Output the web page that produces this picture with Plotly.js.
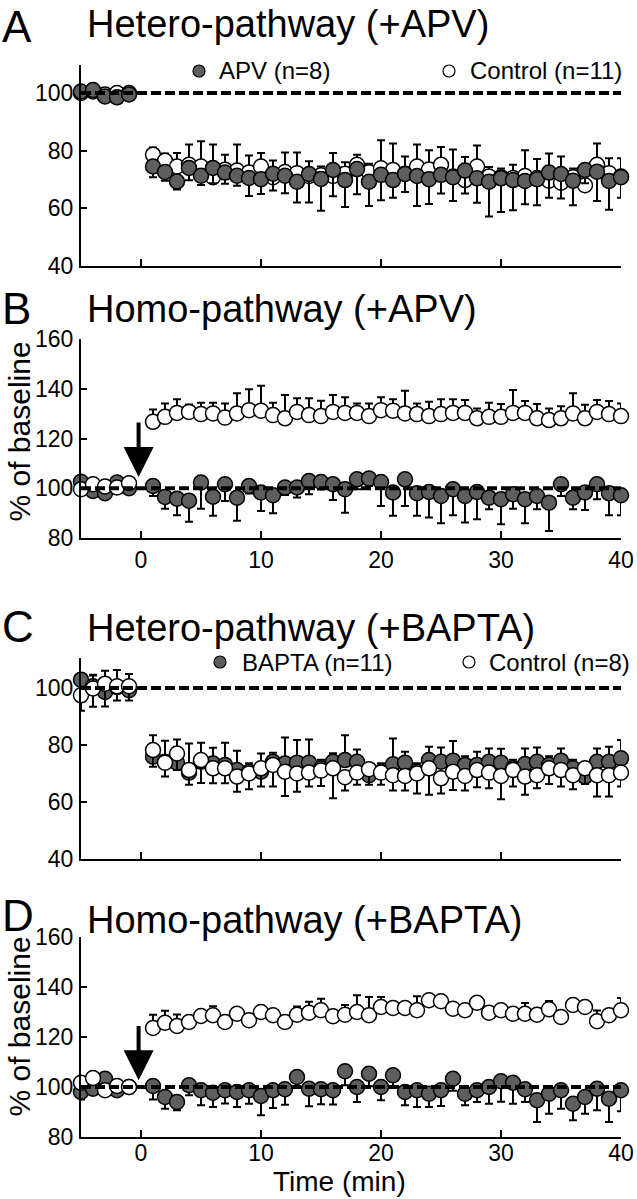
<!DOCTYPE html>
<html><head><meta charset="utf-8">
<script src="https://cdn.plot.ly/plotly-3.0.1.min.js"></script>
<style>html,body{margin:0;padding:0;background:#fff}#chart{width:637px;height:1199px}</style>
</head><body><div id="chart"></div>
<script>
// ---------- DATA ----------
const time = [-5,-4,-3,-2,-1,1,2,3,4,5,6,7,8,9,10,11,12,13,14,15,16,17,18,19,20,21,22,23,24,25,26,27,28,29,30,31,32,33,34,35,36,37,38,39,40];
const xTicks = [0,10,20,30,40];

// Panel A: Hetero-pathway (+APV)
const apvA = [100.5,101,98.8,98.5,99.5, 74.5,72.6,69.3,74.0,71.3,74.0,72.4,71.3,70.5,70.1,72.0,71.3,69.2,71.9,70.2,73.3,69.8,73.6,69.2,71.6,69.8,71.9,71.2,70.1,71.6,70.8,73.1,70.4,69.2,70.4,69.8,69.5,70.1,72.4,71.9,69.6,73.3,72.7,69.5,70.8];
const apvAErr = [1,1,1,1,1, 3.7,3.0,2.8,4.3,3.2,5.3,3.9,3.5,6.2,5.1,5.8,6.1,7.2,9.9,11,9.1,9.3,8.7,8.4,8.8,6.1,6.2,10.4,8.6,6.5,8.3,8,8.5,12,11.7,10.5,8.1,9,8.7,8.5,8.5,4.6,10.2,10,7.1];
const ctrlA = [100,100.5,99.5,100,100, 78.6,76.5,74.5,75.1,74.5,70.8,73.4,73.1,72.4,74.5,70.8,72.6,72.2,71.2,71.5,71.2,72.0,75.1,72.5,73.9,73.3,72.0,74.5,73.5,75.1,71.0,69.8,74.5,71.0,70.8,70.5,71.2,70.5,69.6,68.9,70.8,68.0,75.1,72.2,71.0];
const ctrlAErr = [1,1,1,1,1, 2.5,2.5,4.7,7.0,8.8,11.3,5.2,9,5.9,4.7,5.8,6.8,7.2,5.1,3,8,4,3.5,3,9.7,9.2,6,7.6,6.6,6.2,9.4,8,7.3,3.3,3,4.6,8.9,6.6,9.4,9.1,3,4,7.4,5.2,6.4];

// Panel B: Homo-pathway (+APV)
const apvB = [102.6,98.9,98,102.3,100, 100.9,96.5,95.8,95,102.3,96.6,101.6,96.2,100.9,98.3,97.2,100.3,100.3,102.9,102.5,101.6,99.6,103.6,103.9,102.5,98.3,103.6,98,98.5,96.9,99.6,96.9,98.5,96.2,95.6,97.6,95.6,96.9,94.2,101.6,96.2,98.3,101.6,98,97.2];
const apvBErr = [1.5,1.5,1.5,1.5,2, 4,4.7,6.7,8.5,10.5,7.7,6.7,9.3,3,7.4,7.3,3,4,5.3,3,6.3,9.4,4,3,9.6,9.4,10.7,9.1,10.3,11,10.5,10.7,11,4.6,10.1,5.8,9.7,5.3,11.4,4.7,4.6,7,6,8.9,8.1];
const ctrlB = [99.6,101.6,100.7,100.3,102, 126.7,128.7,130.3,130.7,129.8,130.1,128.4,130.1,131.4,131.2,129.4,128.1,130.7,129.4,129,130.7,130.3,130.3,129,131.4,131.2,130.1,129.8,129,129.8,130.3,130.3,128.1,128.7,128.7,130.3,130.3,128.1,127.4,128.1,130.1,128.1,130.7,129.8,129];
const ctrlBErr = [1,1,1,1,1.5, 5,5.4,5.5,3,4.6,4.3,5.7,8.1,8.4,10,5,9.4,5.5,6.8,6.2,6.8,6.3,3.8,5.1,5.2,4.6,9.1,4.3,5.8,6,5.5,5.2,4,5.7,5.2,9.2,4.8,5.8,4.7,4.9,8.1,5.5,4.8,5.3,5.1];

// Panel C: Hetero-pathway (+BAPTA)
const bapC = [102.9,100.6,98.6,100.3,99.2, 75.9,74.1,73.8,70.3,74.1,73.5,73.0,71.2,70.6,70.6,74.1,73.5,73.8,73.8,71.8,74.1,74.7,74.1,69.4,70.6,73.2,73.8,70.6,74.7,74.1,74.5,73.0,73.0,74.1,73.8,71.8,73.3,74.1,73.0,74.5,71.8,68.9,74.1,74.1,75.3];
const bapCErr = [1.5,3.8,1.5,1.5,1.5, 7.5,7.4,8.1,10.2,6.7,5.5,7.8,6.8,3,6.4,3.2,9.1,7.9,8.1,3,3,8.7,4.3,3,3,9.1,3.8,3,4.7,5,6.9,3,4.6,4.7,4.9,3,5.5,5,3,4.3,3,3,4.7,5.3,6.4];
const ctrlC = [97.4,99.8,101.5,100.6,100.6, 78.2,73.8,77.0,71.2,74.7,71.8,71.8,68.9,70.0,71.8,73.0,70.6,70.0,70.3,71.0,71.8,68.7,70.3,71.5,70.3,69.4,69.1,70.0,71.8,68.3,70.6,69.1,71.2,70.3,69.1,71.2,68.9,69.4,71.8,71.2,69.4,71.8,69.4,69.4,70.3];
const ctrlCErrUp = [3,4.8,4.5,5.7,4.3, 0,0,0,0,0,0,0,0,0,0,0,0,0,0,0,0,0,0,0,0,0,0,0,0,0,0,0,0,0,0,0,0,0,0,0,0,0,0,0,0];
const ctrlCErr = [5.4,6.4,8,5,5, 5.8,4.9,5.8,5.2,8,5.2,5.2,5.3,5.5,6.4,7.6,8.5,6.4,4.9,5.4,10.5,4.7,4.3,5.5,4.3,5.4,5.1,7,9.3,5.3,6.4,5.1,6,5.5,8.1,5.8,6.4,4.6,5.5,5.8,4.9,5.5,7.5,7.5,4.9];

// Panel D: Homo-pathway (+BAPTA)
const bapD = [98,99.3,103.3,98.7,100, 100.4,96,94,100.7,98.7,97.7,98.7,98,98.7,96.4,98.7,99.1,104,99.3,99.1,98.7,106.3,100,105.3,100,104.7,98,98.7,97.3,98.7,103.3,97.3,98.7,100,102.3,101.7,99.1,94.7,97.3,98.7,93.3,96,99.3,95.3,98.7];
const bapDErr = [3,1.5,1.5,1.5,1.5, 5.4,4.7,3.3,4,6,5.7,5.3,6,5.4,7.7,7.1,6.2,4,7,6,5.7,5.6,6,5,5.3,5.1,5.3,6.7,5.3,6.3,4.8,4.6,4.7,6.7,8.2,8.4,5.1,8.7,8,7.4,6.6,6.7,8.6,9.3,8.4];
const ctrlD = [101.7,103.6,98.7,100.4,100, 123.6,125.7,124.4,126,128.4,128.7,126,129.3,126.7,130,128.7,126,128.9,129.7,130.7,128.3,128.9,130,128.7,132,131.6,131.6,130.7,134.7,134.3,131.3,130.7,133.7,129.7,130.7,129.3,129.3,128.9,131.1,128,132.8,132,126.3,128.7,130.7];
const ctrlDErr = [1.5,1.5,1.5,1.5,1.5, 5.3,4.8,4.6,1.5,2,3.6,1.5,1.5,1.5,2,1.5,1.5,3.3,4.4,4.6,1.5,3.9,6.7,7.3,4,2,2,5.6,2,1.5,1.5,1.5,2,1.5,1.5,1.5,4.3,1.5,3.3,1.5,1.5,1.5,4.3,1.5,4.9];

const baseline = 100;
const stimArrow = {x: -0.2, tipB: 104.5, tailB: 127, tipD: 102.7, tailD: 125};

const titles = ['Hetero-pathway (+APV)', 'Homo-pathway (+APV)', 'Hetero-pathway (+BAPTA)', 'Homo-pathway (+BAPTA)'];
const letters = ['A','B','C','D'];
const legendA = ['APV (n=8)', 'Control (n=11)'];
const legendC = ['BAPTA (n=11)', 'Control (n=8)'];
const yTitle = '% of baseline';
const xTitle = 'Time (min)';

// ---------- STYLE / LAYOUT ----------
const W = 637, H = 1199;
const px = v => v / W;
const py = v => 1 - v / H;
const FONT = 'Liberation Sans, Arial, Helvetica, sans-serif';
const GRAY = '#5e5e5e';
const none = time.map(() => 0);

function tr(xa, ya, y, plus, minus, filled) {
  return {
    type: 'scatter', mode: 'markers', x: time, y: y, xaxis: xa, yaxis: ya,
    cliponaxis: false,
    marker: {size: 15, color: filled ? GRAY : '#ffffff', line: {color: '#000', width: 1.5}},
    error_y: {type: 'data', symmetric: false, array: plus, arrayminus: minus,
              color: '#000', thickness: 2, width: 4},
    showlegend: false, hoverinfo: 'skip'
  };
}

const data = [
  tr('x', 'y', ctrlA, ctrlAErr, none, false),
  tr('x', 'y', apvA, none, apvAErr, true),
  tr('x2', 'y2', apvB, none, apvBErr, true),
  tr('x2', 'y2', ctrlB, ctrlBErr, none, false),
  tr('x3', 'y3', bapC, bapCErr, none, true),
  tr('x3', 'y3', ctrlC, ctrlCErrUp, ctrlCErr, false),
  tr('x4', 'y4', bapD, none, bapDErr, true),
  tr('x4', 'y4', ctrlD, ctrlDErr, none, false)
];

const tickFont = {family: FONT, size: 23, color: '#000'};
function xax(anchor, labels, standoff) {
  return {domain: [px(81), px(621)], range: [-5, 40], anchor: anchor,
    tickvals: xTicks, showticklabels: labels, ticks: 'inside', ticklen: 7, tickwidth: 2, tickcolor: '#000',
    ticklabelstandoff: standoff,
    showline: true, linecolor: '#000', linewidth: 2, showgrid: false, zeroline: false,
    tickfont: tickFont, fixedrange: true};
}
function yax(anchor, dom, range, vals) {
  return {domain: dom, range: range, anchor: anchor, tickvals: vals,
    ticks: 'inside', ticklen: 6, tickwidth: 2, tickcolor: '#000', ticklabelstandoff: 1,
    showline: true, linecolor: '#000', linewidth: 2, showgrid: false, zeroline: false,
    tickfont: tickFont, fixedrange: true};
}

const yDomA = [py(266), py(65)], yDomB = [py(538), py(339)], yDomC = [py(859), py(658)], yDomD = [py(1137), py(937)];

const dashLine = (xr, yr, x1) => ({type: 'line', xref: xr, yref: yr, x0: -5, x1: x1, y0: baseline, y1: baseline,
  line: {color: '#000', width: 4, dash: '10px,4px'}, layer: 'above'});
const circ = (cx, cy, filled) => ({type: 'circle', xref: 'paper', yref: 'paper',
  x0: px(cx - 6), x1: px(cx + 6), y0: py(cy + 6), y1: py(cy - 6),
  fillcolor: filled ? GRAY : '#fff', line: {color: '#000', width: 1.2}});

const ann = [];
const letterY = [0, 308, 626, 915], titleY = [24, 309, 628, 920];
for (let i = 0; i < 4; i++) {
  ann.push({xref: 'paper', yref: 'paper', x: px(0), y: py(letterY[i]), xanchor: 'left', yanchor: i === 0 ? 'top' : 'middle',
    text: letters[i], showarrow: false, font: {family: FONT, size: 44, color: '#000'}});
  ann.push({xref: 'paper', yref: 'paper', x: px(85), y: py(titleY[i]), xanchor: 'left', yanchor: 'middle',
    text: titles[i], showarrow: false, font: {family: FONT, size: 38, color: '#000'}});
}
const legFont = {family: FONT, size: 24, color: '#000'};
ann.push({xref: 'paper', yref: 'paper', x: px(217), y: py(71), xanchor: 'left', yanchor: 'middle', text: legendA[0], showarrow: false, font: legFont});
ann.push({xref: 'paper', yref: 'paper', x: px(468), y: py(71), xanchor: 'left', yanchor: 'middle', text: legendA[1], showarrow: false, font: legFont});
ann.push({xref: 'paper', yref: 'paper', x: px(240), y: py(662), xanchor: 'left', yanchor: 'middle', text: legendC[0], showarrow: false, font: legFont});
ann.push({xref: 'paper', yref: 'paper', x: px(487), y: py(662), xanchor: 'left', yanchor: 'middle', text: legendC[1], showarrow: false, font: legFont});
[432, 1027].forEach(cy => ann.push({xref: 'paper', yref: 'paper', x: px(0), y: py(cy), xanchor: 'left', yanchor: 'middle',
  text: yTitle, textangle: -90, showarrow: false, font: {family: FONT, size: 30, color: '#000'}}));
ann.push({xref: 'paper', yref: 'paper', x: px(339), y: py(1199), xanchor: 'center', yanchor: 'bottom',
  text: xTitle, showarrow: false, font: {family: FONT, size: 28, color: '#000'}});
// stimulus arrows
ann.push({xref: 'x2', yref: 'y2', axref: 'x2', ayref: 'y2', x: stimArrow.x, y: stimArrow.tipB, ax: stimArrow.x, ay: stimArrow.tailB,
  text: '', showarrow: true, arrowhead: 2, arrowsize: 1.5, arrowwidth: 4, arrowcolor: '#000'});
ann.push({xref: 'x4', yref: 'y4', axref: 'x4', ayref: 'y4', x: stimArrow.x, y: stimArrow.tipD, ax: stimArrow.x, ay: stimArrow.tailD,
  text: '', showarrow: true, arrowhead: 2, arrowsize: 1.5, arrowwidth: 4, arrowcolor: '#000'});

const layout = {
  width: W, height: H, margin: {l: 0, r: 0, t: 0, b: 0},
  paper_bgcolor: '#fff', plot_bgcolor: '#fff', showlegend: false,
  font: {family: FONT, color: '#000'},
  xaxis: xax('y', false, 0), yaxis: yax('x', yDomA, [40, 109.7], [40, 60, 80, 100]),
  xaxis2: xax('y2', true, 0), yaxis2: yax('x2', yDomB, [80, 160], [80, 100, 120, 140, 160]),
  xaxis3: xax('y3', false, 0), yaxis3: yax('x3', yDomC, [40, 110.5], [40, 60, 80, 100]),
  xaxis4: xax('y4', true, -6), yaxis4: yax('x4', yDomD, [80, 160], [80, 100, 120, 140, 160]),
  shapes: [dashLine('x', 'y', 40.6), dashLine('x2', 'y2', 40.3), dashLine('x3', 'y3', 40.5), dashLine('x4', 'y4', 41.3),
           circ(199, 71, true), circ(449, 71, false), circ(220, 662, true), circ(469, 662, false)],
  annotations: ann
};

Plotly.newPlot('chart', data, layout, {staticPlot: true, displayModeBar: false});
</script>
</body></html>
